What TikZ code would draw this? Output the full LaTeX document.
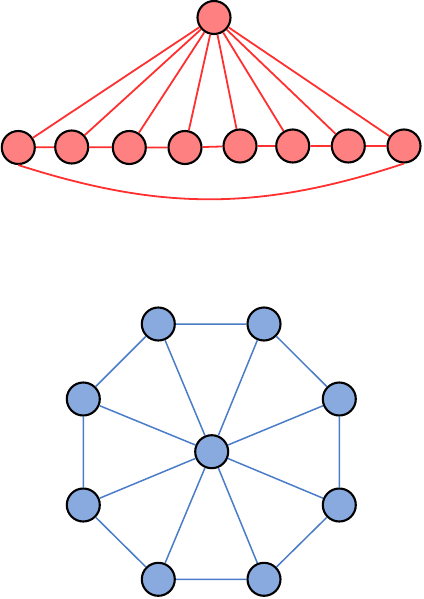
\documentclass[tikz,border=0pt]{standalone}
\begin{document}
\begin{tikzpicture}[x=1pt,y=-1pt,
  rnode/.style={circle,draw=black,line width=2.1pt,fill=redfill,minimum size=33pt,inner sep=0pt},
  bnode/.style={circle,draw=black,line width=2.1pt,fill=bluefill,minimum size=33pt,inner sep=0pt},
  redge/.style={draw=rededge,line width=1.8pt},
  bedge/.style={draw=blueedge,line width=1.5pt}]
\definecolor{redfill}{HTML}{FF8080}
\definecolor{rededge}{HTML}{FF3030}
\definecolor{bluefill}{HTML}{88AADF}
\definecolor{blueedge}{HTML}{4A7CC8}
\useasboundingbox (0,0) rectangle (423,599);
% top graph
\node[rnode] (h) at (214,17.5) {};
\node[rnode] (b1) at (18.3,147.5) {};
\node[rnode] (b2) at (71.7,147) {};
\node[rnode] (b3) at (129.3,147.5) {};
\node[rnode] (b4) at (185,147.5) {};
\node[rnode] (b5) at (240,146) {};
\node[rnode] (b6) at (292.7,146) {};
\node[rnode] (b7) at (348.3,146) {};
\node[rnode] (b8) at (404,146) {};
\foreach \i in {1,...,8} {\draw[redge] (h) -- (b\i);}
\draw[redge] (b1) -- (b2) -- (b3) -- (b4) -- (b5) -- (b6) -- (b7) -- (b8);
\draw[redge] (b1.south) to[bend right=18] (b8.south);
% bottom graph
\node[bnode] (c) at (211.7,451.7) {};
\node[bnode] (o1) at (158.3,324) {};
\node[bnode] (o2) at (264,324) {};
\node[bnode] (o3) at (339.3,399) {};
\node[bnode] (o4) at (339.3,505) {};
\node[bnode] (o5) at (264,579.3) {};
\node[bnode] (o6) at (158.3,579.3) {};
\node[bnode] (o7) at (83.3,505) {};
\node[bnode] (o8) at (83.3,399) {};
\foreach \i in {1,...,8} {\draw[bedge] (c) -- (o\i);}
\draw[bedge] (o1) -- (o2) -- (o3) -- (o4) -- (o5) -- (o6) -- (o7) -- (o8) -- (o1);
\end{tikzpicture}
\end{document}
